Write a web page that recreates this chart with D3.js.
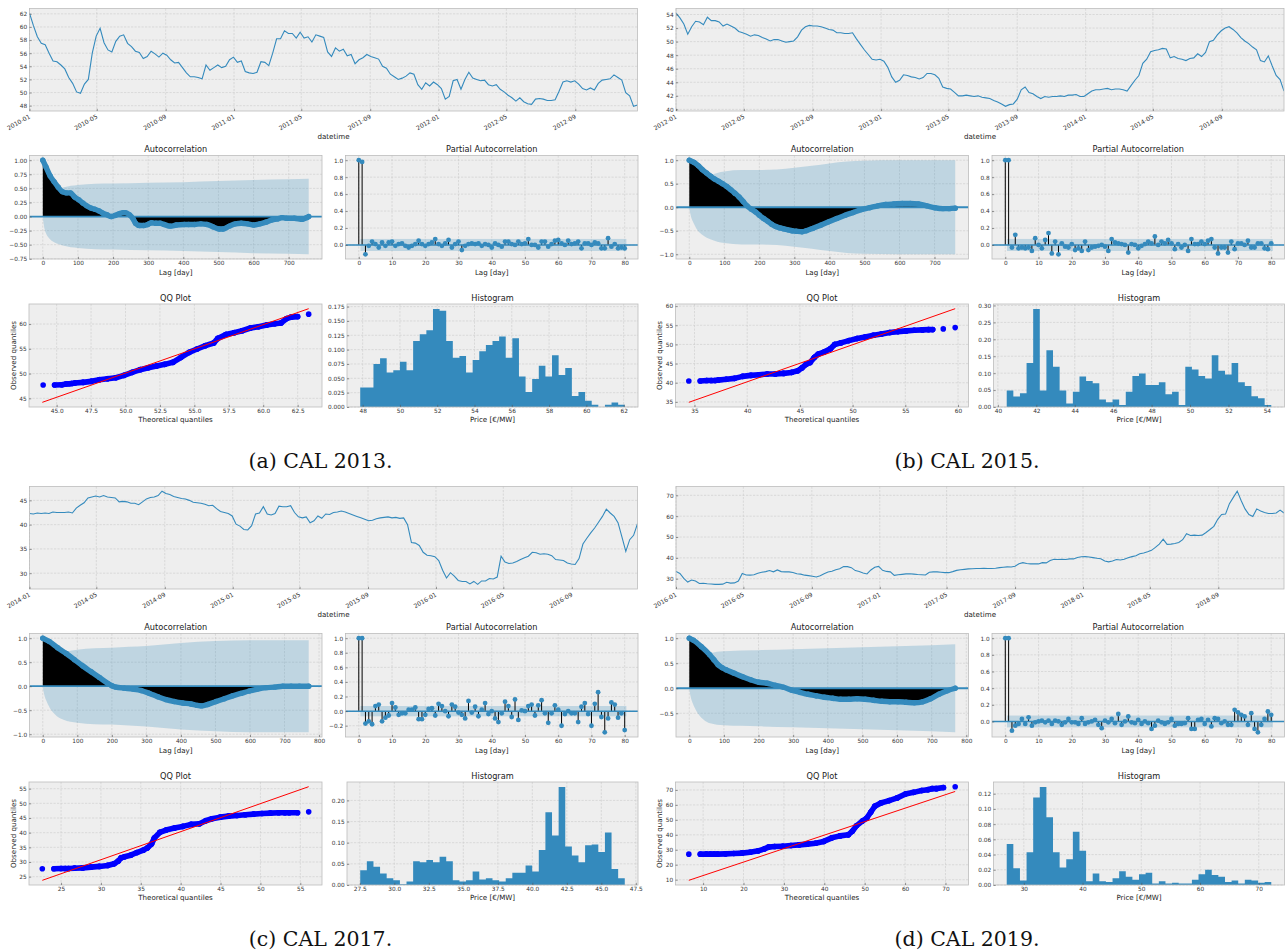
<!DOCTYPE html>
<html><head><meta charset="utf-8">
<script src="https://cdn.jsdelivr.net/npm/d3@7"></script>
<style>body{margin:0;background:#fff}</style>
</head><body>
<script>
// ================= DATA =================
// Weekly-sampled settlement prices (€/MWh)
const tsA_start = "2010-01-01";
const tsA_values = [62.1,60.2,58.5,57.5,57.3,56,54.8,54.7,54.2,53.6,
52.3,51.4,50.1,49.9,51.3,52.0,56.0,58.6,59.8,57.6,
56.5,56.2,57.8,58.6,58.8,57.5,57.0,56.3,56.1,55.2,
55.5,56.3,55.9,55.4,56.0,55.7,55.0,54.5,54.6,53.8,
53.0,52.4,52.4,52.3,52.1,54.2,53.4,53.8,54.2,53.8,
54.0,55.0,55.4,54.6,54.8,53.2,53.0,52.9,53.1,54.7,
54.6,54.1,56.0,58.2,58.2,59.4,59.0,59.0,58.3,59.2,
58.3,58.5,57.7,58.8,58.6,58.4,56.2,55.5,56.8,56.3,
56.6,55.6,55.8,54.4,55.0,55.3,55.8,55.5,55.3,55.1,
54.0,53.7,52.8,52.4,52.0,52.2,52.5,53.0,52.8,51.2,
50.5,51.5,51.0,51.6,51.2,50.6,49.0,49.4,51.8,52.0,
50.5,52.0,53.1,52.2,52.0,51.8,51.9,51.2,51.0,51.2,
50.5,50.1,49.6,49.2,48.7,49.2,48.6,48.3,48.2,49.0,
49.1,49.0,48.8,48.8,48.9,50.2,51.6,51.8,51.6,51.8,
51.3,50.6,50.4,50.7,50.4,51.4,51.9,52.0,52.1,52.7,
52.3,51.9,50.0,49.5,47.9,48.1];
const tsA_xTicks = ["2010-01","2010-05","2010-09","2011-01","2011-05","2011-09","2012-01","2012-05","2012-09"];
const tsA_yTicks = [48,50,52,54,56,58,60,62];

const tsB_start = "2012-01-01";
const tsB_values = [54.2,53.5,52.6,51.1,52.2,53.0,52.9,52.5,53.6,53.1,
53.1,52.9,52.3,52.6,52.3,52.0,51.5,51.3,51.1,50.8,
51.0,50.9,50.6,50.4,50.1,50.3,50.3,50.1,49.9,50.0,
50.1,50.7,51.7,52.2,52.4,52.3,52.3,52.2,52.0,51.8,
51.7,51.3,51.3,51.2,51.2,51.3,50.4,49.6,48.8,48.1,
47.4,47.3,47.4,47.1,46.2,44.8,44.0,44.3,45.1,45.0,
44.8,44.7,44.5,44.7,45.3,45.3,45.1,44.6,43.3,43.1,
43.0,42.5,42.0,42.0,42.1,42.0,41.9,42.0,41.8,41.7,
41.6,41.3,41.1,40.8,40.45,40.7,40.8,41.5,42.9,43.3,
42.5,42.3,41.9,41.6,41.9,41.8,41.9,41.9,42.0,41.9,
42.1,42.1,42.2,41.9,41.9,42.3,42.7,42.9,42.9,43.0,
43.1,42.9,43.0,43.0,42.9,42.7,43.5,44.3,45.0,46.8,
47.4,48.5,48.7,48.8,49.0,48.9,47.6,47.8,47.5,47.4,
47.2,47.5,47.6,48.2,47.8,48.4,50.0,50.2,51.0,51.6,
52.0,52.2,51.8,51.3,50.6,50.1,49.7,49.2,48.8,47.2,
47.0,47.9,46.4,45.0,44.4,42.7];
const tsB_xTicks = ["2012-01","2012-05","2012-09","2013-01","2013-05","2013-09","2014-01","2014-05","2014-09"];
const tsB_yTicks = [40,42,44,46,48,50,52,54];

const tsC_start = "2014-01-01";
const tsC_values = [42.3,42.2,42.4,42.3,42.4,42.3,42.6,42.5,42.5,42.5,
42.6,42.4,43.4,44.0,44.5,45.5,45.7,45.9,45.7,46.0,
45.7,45.6,45.5,44.7,44.8,44.7,44.4,44.4,44.1,44.7,
45.3,45.6,45.7,46.0,46.9,46.4,46.2,45.8,45.6,45.4,
45.3,45.0,44.6,44.5,44.4,44.2,43.9,44.0,43.3,42.7,
42.5,42.3,41.8,40.1,39.7,39.0,38.9,39.8,42.2,42.4,
43.7,42.2,42.0,42.3,43.8,43.7,43.7,43.9,42.5,41.6,
41.4,41.6,40.4,40.8,41.8,41.3,42.2,42.1,42.5,42.6,
42.8,42.6,42.3,42.0,41.7,41.4,41.1,40.8,40.9,41.2,
41.4,41.5,41.6,41.4,41.5,41.3,41.4,40.0,36.3,36.2,
35.7,34.3,33.7,33.6,33.4,32.6,30.6,29.0,30.1,29.4,
28.5,28.3,28.3,27.8,28.3,27.7,28.4,28.4,28.9,28.8,
29.2,33.5,32.3,32.0,32.1,32.4,32.8,33.2,33.5,34.3,
34.2,33.9,34.0,33.9,33.6,32.8,32.7,32.6,32.1,31.9,
31.8,33.0,36.0,37.2,38.3,39.3,40.5,41.7,43.2,42.4,
41.7,40.4,37.5,34.5,36.9,37.8,40.2];
const tsC_xTicks = ["2014-01","2014-05","2014-09","2015-01","2015-05","2015-09","2016-01","2016-05","2016-09"];
const tsC_yTicks = [30,35,40,45];

const tsD_start = "2016-01-01";
const tsD_values = [33.5,32.5,30.2,28.4,29.4,28.9,27.7,27.8,27.6,27.5,
27.3,27.3,27.4,28.3,27.9,28.0,28.9,32.5,31.8,31.7,
31.9,32.6,33.1,33.4,33.9,33.3,34.2,33.4,33.3,33.3,
33.0,32.4,32.2,31.7,31.5,31.2,30.8,31.4,32.4,33.2,
33.6,34.3,34.8,35.8,35.8,35.3,33.9,33.5,32.7,32.3,
34.2,35.5,35.9,34.0,33.5,33.3,31.6,31.9,32.1,32.3,
32.4,32.2,32.0,31.9,31.8,33.1,33.3,33.3,33.1,32.9,
32.9,33.4,34.0,34.3,34.5,34.7,34.8,34.9,34.9,35.0,
34.9,34.9,35.0,35.3,35.5,35.7,35.6,36.0,37.2,37.7,
37.3,37.1,37.2,37.1,37.7,37.6,38.7,39.3,39.2,39.3,
39.2,39.5,39.5,40.2,40.5,40.6,40.4,40.1,39.8,39.6,
38.5,38.1,38.5,39.2,39.0,39.3,40.1,40.6,41.0,42.0,
42.3,42.9,43.6,45.0,46.6,49.0,46.5,46.6,46.9,47.4,
48.7,51.6,50.7,50.9,50.7,50.9,52.2,53.6,55.1,58.5,
60.8,61.0,66.0,69.0,72.0,67.5,63.5,60.8,59.8,63.5,
62.5,61.8,61.3,61.3,61.5,62.9,61.5];
const tsD_xTicks = ["2016-01","2016-05","2016-09","2017-01","2017-05","2017-09","2018-01","2018-05","2018-09"];
const tsD_yTicks = [30,40,50,60,70];

// Autocorrelation (lag, value) and confidence-band half widths
const acfA_lags = [0,9,21,32,44,56,67,79,90,102,114,125,137,148,160,171,183,195,206,218,229,235,247,258,264,276,287,299,310,322,334,345,363,380,403,415,432,450,467,484,502,513,531,548,565,583,600,618,635,652,670,681,693,716,739,751,757];
const acfA_vals = [1.0,0.88,0.72,0.62,0.52,0.44,0.42,0.42,0.35,0.30,0.24,0.19,0.15,0.13,0.10,0.06,0.03,0.00,0.02,0.05,0.07,0.07,0.03,-0.05,-0.12,-0.16,-0.16,-0.14,-0.11,-0.12,-0.12,-0.14,-0.17,-0.15,-0.14,-0.14,-0.14,-0.13,-0.14,-0.18,-0.22,-0.22,-0.17,-0.13,-0.12,-0.13,-0.15,-0.13,-0.10,-0.06,-0.04,-0.02,-0.03,-0.03,-0.05,-0.02,0.00];
const bandA_lags = [1,5,10,20,40,60,100,150,200,300,400,500,600,700,757];
const bandA_half = [0.07,0.22,0.31,0.40,0.48,0.52,0.56,0.58,0.585,0.60,0.61,0.63,0.65,0.66,0.67];

const acfB_lags = [0,14,26,37,49,61,72,84,95,107,119,130,142,154,165,177,189,200,212,224,235,247,259,270,282,293,305,322,334,352,375,398,421,445,468,491,515,538,561,584,608,631,654,678,701,724,742,759];
const acfB_vals = [1.0,0.95,0.88,0.80,0.73,0.66,0.60,0.55,0.50,0.44,0.37,0.30,0.22,0.12,0.03,-0.04,-0.10,-0.17,-0.24,-0.30,-0.36,-0.41,-0.44,-0.46,-0.48,-0.50,-0.51,-0.52,-0.50,-0.45,-0.38,-0.31,-0.24,-0.17,-0.11,-0.05,-0.01,0.03,0.06,0.07,0.08,0.08,0.07,0.03,-0.01,-0.03,-0.03,-0.02];
const bandB_lags = [1,5,10,20,40,60,100,150,200,250,300,350,400,450,500,600,700,759];
const bandB_half = [0.07,0.2,0.3,0.45,0.6,0.68,0.76,0.79,0.79,0.80,0.84,0.88,0.93,0.97,0.99,1.0,1.0,1.0];

const acfC_lags = [0,19,43,68,92,116,140,164,188,200,212,236,261,285,309,333,357,381,405,429,447,460,478,502,526,550,574,598,622,647,671,695,719,743,770];
const acfC_vals = [1.0,0.93,0.80,0.68,0.55,0.42,0.30,0.18,0.06,0.01,-0.02,-0.04,-0.06,-0.09,-0.15,-0.22,-0.28,-0.32,-0.35,-0.37,-0.40,-0.41,-0.38,-0.32,-0.26,-0.20,-0.15,-0.10,-0.06,-0.03,-0.02,0.0,0.0,0.0,0.0];
const bandC_lags = [1,5,10,20,40,60,100,150,200,250,300,400,500,600,770];
const bandC_half = [0.07,0.2,0.3,0.45,0.62,0.7,0.76,0.79,0.8,0.82,0.84,0.9,0.94,0.96,0.96];

const acfD_lags = [0,12,35,59,71,83,95,106,130,154,177,201,225,248,272,296,319,343,366,390,414,437,461,485,508,532,556,579,603,626,650,674,697,721,745,768];
const acfD_vals = [1.0,0.96,0.83,0.67,0.57,0.47,0.41,0.37,0.30,0.23,0.17,0.12,0.10,0.06,0.02,-0.04,-0.08,-0.12,-0.15,-0.18,-0.20,-0.22,-0.22,-0.21,-0.22,-0.24,-0.26,-0.27,-0.27,-0.28,-0.29,-0.27,-0.21,-0.12,-0.05,0.0];
const bandD_lags = [1,5,10,20,40,60,100,200,300,400,500,600,700,768];
const bandD_half = [0.07,0.2,0.3,0.45,0.62,0.7,0.74,0.76,0.78,0.8,0.82,0.84,0.86,0.88];

// Partial autocorrelation, lags 0..80
const pacfA = [1.0,0.98,-0.11,-0.01,0.04,0.01,-0.03,0.03,-0.01,0.03,
0.04,-0.01,0.01,0.02,-0.01,-0.03,-0.01,0.01,0.05,0.01,
-0.01,0.01,0.03,0.07,0.01,-0.01,0.02,0.06,-0.03,0.01,
0.04,-0.06,-0.01,0.01,0.02,0.01,0.02,-0.01,0.01,0.0,
-0.03,0.02,0.0,-0.02,0.04,0.04,0.01,0.0,0.04,0.01,
0.02,0.07,0.0,0.0,-0.03,0.04,0.04,-0.02,0.01,0.05,
0.06,0.02,0.0,0.05,0.01,0.02,0.04,-0.04,0.02,0.02,
0.0,0.03,0.02,-0.04,-0.04,0.08,-0.02,0.01,-0.04,-0.03,
-0.04];
const pacfB = [1.0,1.0,-0.03,0.12,-0.04,-0.03,-0.04,-0.03,-0.07,0.08,
0.0,-0.04,0.06,0.14,-0.10,0.04,-0.11,0.02,-0.02,-0.03,
0.01,-0.06,-0.04,-0.07,0.04,-0.06,-0.03,-0.02,-0.01,0.0,
-0.02,-0.07,0.07,0.03,0.02,0.01,0.0,-0.09,0.01,0.0,
-0.04,-0.01,0.01,0.04,0.02,0.10,0.0,0.04,0.02,0.06,
0.02,-0.05,0.01,-0.03,0.0,-0.07,0.07,0.01,0.01,0.04,
0.01,0.05,0.07,-0.03,-0.10,-0.03,-0.03,-0.09,0.04,-0.05,
0.02,0.02,0.0,0.05,-0.03,-0.03,0.02,0.02,-0.04,-0.05,
0.02];
const pacfC = [1.0,1.0,-0.17,-0.14,-0.18,0.07,0.09,-0.14,-0.09,-0.06,
0.11,0.05,-0.05,-0.03,-0.03,0.02,0.02,0.05,-0.11,-0.11,
-0.05,0.03,0.04,-0.06,0.10,0.07,0.0,-0.07,0.09,0.06,
-0.02,-0.05,-0.10,0.14,-0.02,0.06,-0.07,0.02,0.11,-0.04,
0.0,-0.10,-0.15,-0.03,0.13,0.07,-0.08,0.16,-0.12,0.01,
0.0,0.07,0.09,-0.06,0.08,0.15,-0.03,-0.16,-0.03,0.08,
0.02,-0.20,-0.04,0.0,-0.03,-0.03,-0.15,0.06,0.11,-0.04,
-0.20,0.10,0.26,-0.08,-0.29,-0.10,0.12,0.09,-0.09,-0.03,
-0.26];
const pacfD = [1.0,1.0,-0.11,-0.05,-0.03,0.03,-0.03,0.05,-0.05,-0.01,
0.0,0.01,-0.01,0.01,-0.03,0.01,0.0,-0.04,-0.01,0.03,
-0.01,-0.01,-0.03,0.04,-0.03,-0.01,0.0,0.02,-0.04,-0.08,
0.01,-0.01,0.03,-0.02,0.09,-0.04,0.0,0.06,-0.01,-0.02,
0.02,-0.03,0.0,-0.02,-0.09,-0.05,0.01,-0.01,-0.03,-0.01,
0.03,-0.05,-0.03,-0.03,-0.02,0.04,-0.09,-0.09,0.02,0.03,
-0.03,0.02,-0.06,0.04,0.03,-0.02,0.0,-0.04,-0.04,0.14,
0.11,0.08,0.06,-0.04,0.10,-0.09,-0.13,-0.04,0.03,0.12,
0.08];
const pacf_conf = [0.071, 0.071, 0.0706, 0.0707];

// QQ plot: theoretical vs observed quantiles, and reference line endpoints
const qqA_theo = [44.02,44.85,45.38,45.68,45.9,46.1,46.33,46.92,47.52,48.1,48.7,49.3,49.89,50.48,51.07,51.66,52.25,52.85,53.44,54.03,54.62,55.2,55.8,56.4,56.7,57.29,57.88,58.47,59.07,59.66,60.25,60.84,61.29,61.7,62.03,62.5,63.3];
const qqA_obs = [47.7,47.7,47.76,47.9,47.96,48.0,48.1,48.23,48.43,48.77,48.97,49.17,49.64,50.25,50.79,51.19,51.53,51.86,52.27,53.28,54.28,54.96,55.63,56.17,57.1,57.9,58.25,58.65,59.2,59.46,59.8,60.07,60.2,61.1,61.4,61.5,62.0];
const qqA_line = [[43.96,44.2],[63.3,63.1]];
const qqB_theo = [34.46,35.54,36.16,36.59,36.94,37.25,38.02,38.8,39.57,40.35,41.12,41.9,42.67,43.45,44.22,44.8,45.2,45.58,45.97,46.36,46.74,47.33,47.9,48.3,48.88,49.65,50.43,51.2,51.98,52.75,53.53,54.3,55.08,55.85,56.63,57.2,57.6,58.6,59.73];
const qqB_obs = [40.45,40.45,40.6,40.6,40.6,40.7,40.9,41.15,41.67,41.93,42.1,42.27,42.27,42.45,42.7,43.14,43.9,44.8,45.3,46.6,47.47,48.07,48.9,49.98,50.4,51.0,51.54,51.97,52.4,52.75,53.1,53.35,53.53,53.7,53.79,53.87,53.87,54.05,54.4];
const qqB_line = [[34.46,34.9],[59.73,59.33]];
const qqC_theo = [22.65,24.11,25.0,25.52,25.94,26.67,27.72,28.76,29.8,30.85,31.64,32.16,32.53,32.95,33.73,34.51,35.3,35.82,36.34,36.7,37.39,38.17,39.22,40.26,41.3,42.36,43.14,43.92,44.97,46.01,47.06,48.1,49.15,50.2,51.24,52.29,53.07,53.6,54.65,56.05];
const qqC_obs = [27.7,27.7,27.8,27.8,27.8,27.9,28.0,28.27,28.5,28.84,29.4,30.3,31.43,31.77,32.33,33.23,34.02,34.81,36.17,38.2,40.11,40.9,41.58,42.14,42.82,43.05,44.06,44.74,45.3,45.64,45.87,46.1,46.32,46.54,46.65,46.77,46.77,46.77,46.77,47.1];
const qqC_line = [[22.65,23.76],[56.05,55.68]];
const qqD_theo = [6.46,9.3,10.8,11.8,12.7,13.54,15.56,17.59,19.61,21.64,23.66,25.18,26.19,27.71,29.73,31.75,33.78,35.8,37.83,39.85,41.87,43.9,45.92,46.93,47.94,49.46,50.47,51.49,52.5,54.0,56.04,58.06,60.09,62.11,64.13,65.65,66.66,67.7,69.5,72.4];
const qqD_obs = [27.1,27.1,27.1,27.1,27.1,27.1,27.3,27.56,27.78,28.4,29.3,30.6,31.8,32.2,32.4,32.9,33.3,33.8,34.4,35.6,38.0,39.3,40.0,42.4,46.0,49.3,51.1,55.1,59.1,61.3,62.9,64.7,67.3,68.4,69.6,70.2,70.9,70.9,71.6,72.2];
const qqD_line = [[6.46,9.6],[72.4,69.0]];

// Histograms: density of 40 equal bins over [min, max] price
const histA = [0.034,0.034,0.075,0.085,0.060,0.064,0.079,0.064,0.115,0.127,0.134,0.171,0.168,0.115,0.086,0.089,0.060,0.082,0.097,0.108,0.115,0.123,0.086,0.120,0.053,0.026,0.049,0.072,0.053,0.090,0.056,0.068,0.019,0.026,0.011,0.004,0,0.004,0.008,0.004];
const histA_range = [47.87, 62.06];
const histB = [0.049,0.031,0.041,0.130,0.290,0.049,0.168,0.119,0.049,0.010,0.045,0.090,0.077,0.070,0.022,0.014,0.022,0.006,0.045,0.092,0.099,0.065,0.065,0.073,0.038,0.045,0.006,0.119,0.111,0.092,0.084,0.153,0.107,0.096,0.130,0.073,0.062,0.032,0.026,0.006];
const histB_range = [40.46, 54.23];
const histC = [0.035,0.056,0.043,0.027,0.016,0.011,0.002,0.008,0.056,0.054,0.059,0.054,0.067,0.056,0.011,0.008,0.011,0.032,0.013,0.016,0.011,0.008,0.016,0.029,0.029,0.046,0.032,0.083,0.172,0.117,0.232,0.091,0.070,0.054,0.094,0.096,0.078,0.124,0.038,0.016];
const histC_range = [27.53, 46.7];
const histD = [0.054,0.022,0.006,0.043,0.115,0.129,0.089,0.043,0.023,0.034,0.070,0.045,0.005,0.015,0.005,0.004,0.009,0.018,0.011,0.007,0.014,0.016,0.002,0.005,0.002,0.003,0.002,0.002,0.007,0.014,0.020,0.013,0.011,0.004,0.006,0.002,0.007,0.006,0.003,0.004];
const histD_range = [27.09, 72.13];

// Tick values
const acf_xTicks7 = [0,100,200,300,400,500,600,700];
const acf_xTicks8 = [0,100,200,300,400,500,600,700,800];
const acfA_yTicks = [-0.75,-0.5,-0.25,0,0.25,0.5,0.75,1];
const acfB_yTicks = [-1,-0.5,0,0.5,1];
const acfD_yTicks = [-0.5,0,0.5,1];
const pacf_xTicks = [0,10,20,30,40,50,60,70,80];
const pacf_yTicks = [0,0.2,0.4,0.6,0.8,1];
const pacfC_yTicks = [-0.2,0,0.2,0.4,0.6,0.8,1];
const qqA_xTicks = [45,47.5,50,52.5,55,57.5,60,62.5], qqA_yTicks = [45,50,55,60];
const qqB_xTicks = [35,40,45,50,55,60], qqB_yTicks = [35,40,45,50,55,60];
const qqC_xTicks = [25,30,35,40,45,50,55], qqC_yTicks = [25,30,35,40,45,50,55];
const qqD_xTicks = [10,20,30,40,50,60,70], qqD_yTicks = [10,20,30,40,50,60,70];
const histA_xTicks = [48,50,52,54,56,58,60,62], histA_yTicks = [0,0.025,0.05,0.075,0.1,0.125,0.15,0.175];
const histB_xTicks = [40,42,44,46,48,50,52,54], histB_yTicks = [0,0.05,0.1,0.15,0.2,0.25,0.3];
const histC_xTicks = [27.5,30,32.5,35,37.5,40,42.5,45,47.5], histC_yTicks = [0,0.05,0.1,0.15,0.2];
const histD_xTicks = [30,40,50,60,70], histD_yTicks = [0,0.02,0.04,0.06,0.08,0.1,0.12];

const captions = ["(a) CAL 2013.", "(b) CAL 2015.", "(c) CAL 2017.", "(d) CAL 2019."];

// ================= STYLE / LAYOUT =================
const C0 = "#348ABD", FACE = "#eeeeee", EDGE = "#bcbcbc", GRID = "#cbcbcb";
const FONT = '"DejaVu Sans", sans-serif';
const TFS = 5.8, LFS = 7.1, TITFS = 8.2;
const LAYOUT = {ts:[29.5,637.5,8.5,111], acf:[29.5,322,155.5,259], pacf:[345.5,638,155.5,259], qq:[29,322,304,407], hist:[347,638,304,407]};
const OFFS = [[0,0],[646.5,0],[0,478],[646.5,478]];

const svg = d3.select("body").append("svg").attr("width",1286).attr("height",952).style("display","block");
svg.append("rect").attr("width",1286).attr("height",952).attr("fill","#fff");

let clipN = 0;
function bx(o, r){ return {x0:o[0]+r[0], x1:o[0]+r[1], y0:o[1]+r[2], y1:o[1]+r[3]}; }
function face(g,b){
  g.append("rect").attr("x",b.x0).attr("y",b.y0).attr("width",b.x1-b.x0).attr("height",b.y1-b.y0).attr("fill",FACE);
  const id = "clip"+(clipN++);
  g.append("clipPath").attr("id",id).append("rect").attr("x",b.x0).attr("y",b.y0).attr("width",b.x1-b.x0).attr("height",b.y1-b.y0);
  return g.append("g").attr("clip-path",`url(#${id})`);
}
function grid(g,b,xs,ys){
  const gg = g.append("g").attr("stroke",GRID).attr("stroke-width",0.6).attr("stroke-dasharray","2.2,1.3");
  xs.forEach(p=>gg.append("line").attr("x1",p).attr("x2",p).attr("y1",b.y0).attr("y2",b.y1));
  ys.forEach(p=>gg.append("line").attr("x1",b.x0).attr("x2",b.x1).attr("y1",p).attr("y2",p));
}
function border(g,b){
  g.append("rect").attr("x",b.x0).attr("y",b.y0).attr("width",b.x1-b.x0).attr("height",b.y1-b.y0)
   .attr("fill","none").attr("stroke",EDGE).attr("stroke-width",0.8);
}
function styleAxis(a, fs){
  a.select(".domain").remove();
  a.attr("font-size",null).attr("font-family",null);
  a.selectAll("line").attr("stroke","#555").attr("stroke-width",0.6);
  a.selectAll("text").attr("fill","#333").style("font-family",FONT).style("font-size",(fs||TFS)+"px");
  return a;
}
function axisB(g,scale,ticks,fmt,y,fs){
  return styleAxis(g.append("g").attr("transform",`translate(0,${y})`)
    .call(d3.axisBottom(scale).tickValues(ticks).tickFormat(fmt).tickSize(-2.2).tickPadding(2.0)), fs);
}
function axisL(g,scale,ticks,fmt,x,fs){
  return styleAxis(g.append("g").attr("transform",`translate(${x},0)`)
    .call(d3.axisLeft(scale).tickValues(ticks).tickFormat(fmt).tickSize(-2.2).tickPadding(2.4)), fs);
}
function text(g,x,y,s,size,opts={}){
  const t = g.append("text").attr("x",x).attr("y",y).text(s).attr("text-anchor",opts.anchor||"middle")
    .style("font-family",opts.family||FONT).style("font-size",size+"px").attr("fill",opts.fill||"#222");
  if(opts.rotate) t.attr("transform",`rotate(${opts.rotate},${x},${y})`);
  return t;
}
function pad(ext, f=0.05){ const m=(ext[1]-ext[0])*f; return [ext[0]-m, ext[1]+m]; }

// ---------- time series ----------
function drawTS(o, start, vals, xTicks, yTicks){
  const b = bx(o, LAYOUT.ts), g = svg.append("g");
  const t0 = d3.utcParse("%Y-%m-%d")(start);
  const data = vals.map((v,i)=>({d:d3.utcDay.offset(t0,7*i), v}));
  const x = d3.scaleUtc().domain(d3.extent(data,d=>d.d)).range([b.x0,b.x1]);
  const y = d3.scaleLinear().domain(pad(d3.extent(vals))).range([b.y1,b.y0]);
  const xt = xTicks.map(d3.utcParse("%Y-%m"));
  const inner = face(g,b);
  grid(g,b,xt.map(x),yTicks.map(y));
  g.append("g").attr("clip-path",inner.attr("clip-path")).append("path").datum(data)
    .attr("d",d3.line().x(d=>x(d.d)).y(d=>y(d.v))).attr("fill","none").attr("stroke",C0).attr("stroke-width",1.1);
  border(g,b);
  const ax = axisB(g,x,xt,d3.utcFormat("%Y-%m"),b.y1,6.1);
  ax.selectAll("text").attr("x",0).attr("y",0).attr("dy","0.75em").attr("text-anchor","end")
    .attr("transform","translate(-1.5,2.8) rotate(-30)");
  axisL(g,y,yTicks,d3.format("d"),b.x0);
  text(g,(b.x0+b.x1)/2,o[1]+139,"datetime",LFS);
}

// ---------- ACF ----------
function drawACF(o, lags, vals, bl, bh, xTicks, yTicks, fmt){
  const b = bx(o, LAYOUT.acf), g = svg.append("g");
  const maxLag = d3.max(lags);
  const x = d3.scaleLinear().domain(pad([0,maxLag])).range([b.x0,b.x1]);
  const lo = Math.min(d3.min(vals), -d3.max(bh)), hi = Math.max(d3.max(vals), d3.max(bh));
  const y = d3.scaleLinear().domain(pad([lo,hi])).range([b.y1,b.y0]);
  const inner = face(g,b);
  grid(g,b,xTicks.map(x),yTicks.map(y));
  const pts = lags.map((l,i)=>[l,vals[i]]);
  const band = bl.map((l,i)=>[l,bh[i]]);
  const cg = g.append("g").attr("clip-path",inner.attr("clip-path"));
  cg.append("path").datum(band).attr("d",d3.area().curve(d3.curveMonotoneX).x(d=>x(d[0])).y0(d=>y(-d[1])).y1(d=>y(d[1])))
    .attr("fill",C0).attr("fill-opacity",0.25);
  cg.append("path").datum(pts).attr("d",d3.area().x(d=>x(d[0])).y0(y(0)).y1(d=>y(d[1]))).attr("fill","#000");
  cg.append("path").datum(pts).attr("d",d3.line().curve(d3.curveMonotoneX).x(d=>x(d[0])).y(d=>y(d[1])))
    .attr("fill","none").attr("stroke",C0).attr("stroke-width",5.4).attr("stroke-linecap","round").attr("stroke-linejoin","round");
  cg.selectAll("circle").data(pts).join("circle").attr("cx",d=>x(d[0])).attr("cy",d=>y(d[1])).attr("r",2.7).attr("fill",C0);
  cg.append("line").attr("x1",b.x0).attr("x2",b.x1).attr("y1",y(0)).attr("y2",y(0)).attr("stroke",C0).attr("stroke-width",1.8);
  border(g,b);
  axisB(g,x,xTicks,d3.format("d"),b.y1);
  axisL(g,y,yTicks,d3.format(fmt),b.x0);
  text(g,(b.x0+b.x1)/2,b.y0-3.5,"Autocorrelation",TITFS);
  text(g,(b.x0+b.x1)/2,b.y1+15.8,"Lag [day]",LFS);
}

// ---------- PACF ----------
function drawPACF(o, vals, conf, yTicks){
  const b = bx(o, LAYOUT.pacf), g = svg.append("g");
  const lags = vals.map((v,i)=>i);
  const x = d3.scaleLinear().domain(pad([0,lags.length-1])).range([b.x0,b.x1]);
  const y = d3.scaleLinear().domain(pad([Math.min(d3.min(vals),-conf), Math.max(d3.max(vals),conf)])).range([b.y1,b.y0]);
  const inner = face(g,b);
  grid(g,b,pacf_xTicks.map(x),yTicks.map(y));
  const cg = g.append("g").attr("clip-path",inner.attr("clip-path"));
  cg.append("rect").attr("x",x(0.5)).attr("width",x(lags.length-0.5)-x(0.5)).attr("y",y(conf)).attr("height",y(-conf)-y(conf))
    .attr("fill",C0).attr("fill-opacity",0.25);
  cg.selectAll("line.stem").data(vals).join("line").attr("class","stem")
    .attr("x1",(d,i)=>x(i)).attr("x2",(d,i)=>x(i)).attr("y1",y(0)).attr("y2",d=>y(d)).attr("stroke","#000").attr("stroke-width",1);
  cg.append("line").attr("x1",b.x0).attr("x2",b.x1).attr("y1",y(0)).attr("y2",y(0)).attr("stroke",C0).attr("stroke-width",1.5);
  cg.selectAll("circle").data(vals).join("circle").attr("cx",(d,i)=>x(i)).attr("cy",d=>y(d)).attr("r",2.4).attr("fill",C0);
  border(g,b);
  axisB(g,x,pacf_xTicks,d3.format("d"),b.y1);
  axisL(g,y,yTicks,d3.format(".1f"),b.x0);
  text(g,(b.x0+b.x1)/2,b.y0-3.5,"Partial Autocorrelation",TITFS);
  text(g,(b.x0+b.x1)/2,b.y1+15.8,"Lag [day]",LFS);
}

// ---------- QQ ----------
function drawQQ(o, theo, obs, line, xTicks, yTicks, xfmt){
  const b = bx(o, LAYOUT.qq), g = svg.append("g");
  const x = d3.scaleLinear().domain(pad(d3.extent(theo.concat(line.map(d=>d[0]))))).range([b.x0,b.x1]);
  const y = d3.scaleLinear().domain(pad(d3.extent(obs.concat(line.map(d=>d[1]))))).range([b.y1,b.y0]);
  const inner = face(g,b);
  grid(g,b,xTicks.map(x),yTicks.map(y));
  const cg = g.append("g").attr("clip-path",inner.attr("clip-path"));
  const P = theo.map((t,i)=>[x(t),y(obs[i])]);
  for(let i=1;i<P.length;i++){
    const dx=P[i][0]-P[i-1][0], dy=P[i][1]-P[i-1][1];
    if(Math.hypot(dx,dy) < 10){
      cg.append("line").attr("x1",P[i-1][0]).attr("y1",P[i-1][1]).attr("x2",P[i][0]).attr("y2",P[i][1])
        .attr("stroke","#0000ff").attr("stroke-width",5.6).attr("stroke-linecap","round");
    }
  }
  cg.selectAll("circle").data(P).join("circle").attr("cx",d=>d[0]).attr("cy",d=>d[1]).attr("r",2.8).attr("fill","#0000ff");
  cg.append("line").attr("x1",x(line[0][0])).attr("y1",y(line[0][1])).attr("x2",x(line[1][0])).attr("y2",y(line[1][1]))
    .attr("stroke","#ff0000").attr("stroke-width",1);
  border(g,b);
  axisB(g,x,xTicks,d3.format(xfmt),b.y1);
  axisL(g,y,yTicks,d3.format("d"),b.x0);
  text(g,(b.x0+b.x1)/2,b.y0-3.5,"QQ Plot",TITFS);
  text(g,(b.x0+b.x1)/2,b.y1+15.3,"Theoretical quantiles",LFS);
  text(g,o[0]+15.5,(b.y0+b.y1)/2,"Observed quantiles",LFS,{rotate:-90});
}

// ---------- Histogram (drawn as one step-filled shape so no seams) ----------
function drawHist(o, vals, range, xTicks, yTicks, xfmt, yfmt){
  const b = bx(o, LAYOUT.hist), g = svg.append("g");
  const x = d3.scaleLinear().domain(pad(range)).range([b.x0,b.x1]);
  const y = d3.scaleLinear().domain([0, d3.max(vals)*1.05]).range([b.y1,b.y0]);
  const w = (range[1]-range[0])/vals.length;
  const inner = face(g,b);
  grid(g,b,xTicks.map(x),yTicks.map(y));
  const cg = g.append("g").attr("clip-path",inner.attr("clip-path"));
  const steps = vals.map((v,i)=>[range[0]+i*w, v]).concat([[range[1], vals[vals.length-1]]]);
  cg.append("path").datum(steps)
    .attr("d",d3.area().curve(d3.curveStepAfter).x(d=>x(d[0])).y0(y(0)).y1(d=>y(d[1])))
    .attr("fill",C0);
  border(g,b);
  axisB(g,x,xTicks,d3.format(xfmt),b.y1);
  axisL(g,y,yTicks,d3.format(yfmt),b.x0);
  text(g,(b.x0+b.x1)/2,b.y0-3.5,"Histogram",TITFS);
  text(g,(b.x0+b.x1)/2,b.y1+15.3,"Price [€/MW]",LFS);
}

// ================= DRAW =================
const TS = [[tsA_start,tsA_values,tsA_xTicks,tsA_yTicks],[tsB_start,tsB_values,tsB_xTicks,tsB_yTicks],
            [tsC_start,tsC_values,tsC_xTicks,tsC_yTicks],[tsD_start,tsD_values,tsD_xTicks,tsD_yTicks]];
const ACF = [[acfA_lags,acfA_vals,bandA_lags,bandA_half,acf_xTicks7,acfA_yTicks,".2f"],
             [acfB_lags,acfB_vals,bandB_lags,bandB_half,acf_xTicks7,acfB_yTicks,".1f"],
             [acfC_lags,acfC_vals,bandC_lags,bandC_half,acf_xTicks8,acfB_yTicks,".1f"],
             [acfD_lags,acfD_vals,bandD_lags,bandD_half,acf_xTicks8,acfD_yTicks,".1f"]];
const PACF = [[pacfA,pacf_conf[0],pacf_yTicks],[pacfB,pacf_conf[1],pacf_yTicks],[pacfC,pacf_conf[2],pacfC_yTicks],[pacfD,pacf_conf[3],pacf_yTicks]];
const QQ = [[qqA_theo,qqA_obs,qqA_line,qqA_xTicks,qqA_yTicks,".1f"],[qqB_theo,qqB_obs,qqB_line,qqB_xTicks,qqB_yTicks,"d"],
            [qqC_theo,qqC_obs,qqC_line,qqC_xTicks,qqC_yTicks,"d"],[qqD_theo,qqD_obs,qqD_line,qqD_xTicks,qqD_yTicks,"d"]];
const HIST = [[histA,histA_range,histA_xTicks,histA_yTicks,"d",".3f"],[histB,histB_range,histB_xTicks,histB_yTicks,"d",".2f"],
              [histC,histC_range,histC_xTicks,histC_yTicks,".1f",".2f"],[histD,histD_range,histD_xTicks,histD_yTicks,"d",".2f"]];

OFFS.forEach((o,k)=>{
  drawTS(o, ...TS[k]);
  drawACF(o, ...ACF[k]);
  drawPACF(o, ...PACF[k]);
  drawQQ(o, ...QQ[k]);
  drawHist(o, ...HIST[k]);
  text(svg, o[0]+320.5, o[1]+468, captions[k], 20.5, {family:'"DejaVu Serif", serif', fill:"#111"});
});
</script>
</body></html>
